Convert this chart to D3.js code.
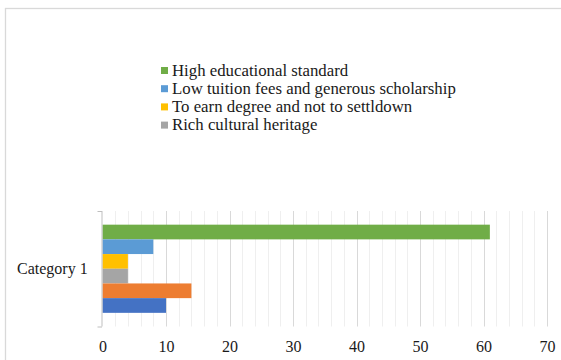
<!DOCTYPE html>
<html><head><meta charset="utf-8">
<script src="https://cdn.jsdelivr.net/npm/d3@7"></script>
<style>html,body{margin:0;padding:0;background:#fff;}svg{display:block;} text{font-family:"Liberation Serif","Times New Roman",serif;}</style>
</head><body>
<script>
const categories = ["Category 1"];
// series in drawing order from top to bottom
const seriesNames = ["High educational standard", "Low tuition fees and generous scholarship", "To earn degree and not to settldown", "Rich cultural heritage", "Series 2", "Series 1"];
const seriesValues = [61, 8, 4, 4, 14, 10];
const seriesColors = ["#70AD47", "#5B9BD5", "#FFC000", "#A5A5A5", "#ED7D31", "#4472C4"];
const legendNames = ["High educational standard", "Low tuition fees and generous scholarship", "To earn degree and not to settldown", "Rich cultural heritage"];
const legendColors = ["#70AD47", "#5B9BD5", "#FFC000", "#A5A5A5"];
const xTicks = [0, 10, 20, 30, 40, 50, 60, 70];

(function () {
const W = 561, H = 360;
const svg = d3.select("body").append("svg").attr("width", W).attr("height", H);

// outer frame
svg.append("rect").attr("x", 5.5).attr("y", 8.5).attr("width", W + 10).attr("height", H + 10)
  .attr("fill", "none").attr("stroke", "#d9d9d9").attr("stroke-width", 1.3);

const pL = 102.5, pR = 547, pT = 211, pB = 326.5;
const x = d3.scaleLinear().domain([0, 70]).range([pL, pR]);
const y = d3.scaleBand().domain(categories).range([pT, pB]).paddingInner(0).paddingOuter(0.155);
const yInner = d3.scaleBand().domain(d3.range(seriesValues.length)).range([0, y.bandwidth()]);

// minor gridlines
const minor = d3.range(0, 71, 2).filter(v => v % 10 !== 0);
svg.append("g").selectAll("line").data(minor).join("line")
  .attr("x1", d => Math.round(x(d)) + 0.5).attr("x2", d => Math.round(x(d)) + 0.5)
  .attr("y1", pT).attr("y2", pB).attr("stroke", "#efefef").attr("stroke-width", 1);
// major gridlines
svg.append("g").selectAll("line").data(xTicks.filter(d => d > 0)).join("line")
  .attr("x1", d => Math.round(x(d)) + 0.5).attr("x2", d => Math.round(x(d)) + 0.5)
  .attr("y1", pT).attr("y2", pB).attr("stroke", "#d9d9d9").attr("stroke-width", 1);

// bars
const cat = categories[0];
svg.append("g").selectAll("rect").data(seriesValues).join("rect")
  .attr("x", x(0)).attr("y", (d, i) => y(cat) + yInner(i))
  .attr("width", d => x(d) - x(0)).attr("height", yInner.bandwidth())
  .attr("fill", (d, i) => seriesColors[i]);

// category axis (left) with bracket ticks
const ya = svg.append("g");
ya.append("line").attr("x1", pL - 0.5).attr("x2", pL - 0.5).attr("y1", pT).attr("y2", pB)
  .attr("stroke", "#bfbfbf");
[pT, pB].forEach(v => ya.append("line").attr("x1", pL - 5).attr("x2", pL - 0.5)
  .attr("y1", v + 0.5).attr("y2", v + 0.5).attr("stroke", "#bfbfbf"));
ya.append("text").attr("x", 17).attr("y", y(cat) + y.bandwidth() / 2 + 5)
  .attr("font-size", 16).attr("fill", "#1a1a1a").text(cat);

// x tick labels
const xa = svg.append("g").attr("transform", `translate(0,${pB})`)
  .call(d3.axisBottom(x).tickValues(xTicks).tickSize(0).tickPadding(14).tickFormat(d3.format("d")));
xa.select(".domain").remove();
xa.selectAll("text").attr("font-family", null).attr("font-size", 16).attr("fill", "#1a1a1a");
xa.attr("font-family", null);

// legend
const lg = svg.append("g");
legendNames.forEach((n, i) => {
  const cy = 70.5 + i * 18.2;
  lg.append("rect").attr("x", 161).attr("y", cy - 3.5).attr("width", 7).attr("height", 7).attr("fill", legendColors[i]);
  lg.append("text").attr("x", 172).attr("y", cy + 5).attr("font-size", 16.8)
    .attr("fill", "#1a1a1a").text(n);
});
})();
</script>
</body></html>
